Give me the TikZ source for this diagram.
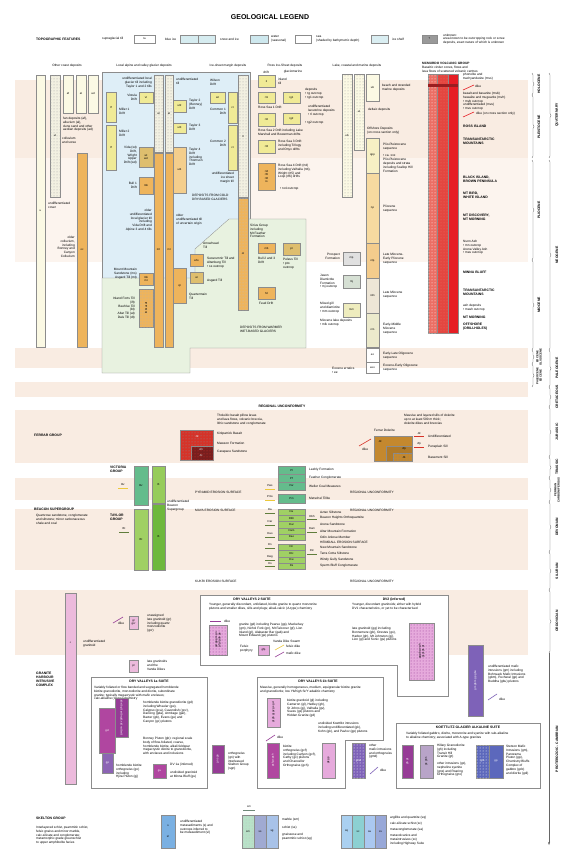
\documentclass[tikz,border=0pt]{standalone}
\usepackage{fontspec}
\setmainfont{Liberation Sans}
\usetikzlibrary{calc, patterns, decorations.pathreplacing, arrows.meta}
\definecolor{bandpeach}{RGB}{249,236,226}
\definecolor{bandlight}{RGB}{252,244,238}
\definecolor{coldblue}{RGB}{222,238,247}
\definecolor{warmgreen}{RGB}{232,242,224}
\definecolor{paleyel}{RGB}{251,249,228}
\definecolor{screebg}{RGB}{242,240,225}
\definecolor{tillyel}{RGB}{240,234,150}
\definecolor{tilltan}{RGB}{222,190,110}
\definecolor{oldorange}{RGB}{238,180,92}
\definecolor{lightorange}{RGB}{244,206,140}
\definecolor{iceblue}{RGB}{214,236,240}
\definecolor{snowblue}{RGB}{206,232,238}
\definecolor{seablue}{RGB}{218,238,242}
\definecolor{seqa}{RGB}{247,240,196}
\definecolor{seqb}{RGB}{247,218,160}
\definecolor{seqc}{RGB}{244,204,140}
\definecolor{seqd}{RGB}{238,230,214}
\definecolor{seqe}{RGB}{236,234,204}
\definecolor{jasgreen}{RGB}{214,224,212}
\definecolor{mmyel}{RGB}{238,236,190}
\definecolor{volcred}{RGB}{230,30,36}
\definecolor{volcmid}{RGB}{228,70,64}
\definecolor{volcpink}{RGB}{236,110,100}
\definecolor{ferrarred}{RGB}{214,50,40}
\definecolor{ferrardark}{RGB}{120,30,30}
\definecolor{doleritebrown}{RGB}{196,136,46}
\definecolor{victgreen}{RGB}{100,188,140}
\definecolor{beacgreen}{RGB}{150,204,90}
\definecolor{beacdark}{RGB}{110,184,60}
\definecolor{taylgreen}{RGB}{160,208,100}
\definecolor{granpink}{RGB}{236,186,220}
\definecolor{dvpink}{RGB}{230,170,220}
\definecolor{dvmagenta}{RGB}{176,70,160}
\definecolor{dvviolet}{RGB}{150,60,150}
\definecolor{dvpurple}{RGB}{140,100,180}
\definecolor{matpurple}{RGB}{126,98,184}
\definecolor{kgray}{RGB}{184,164,200}
\definecolor{alkblue}{RGB}{92,104,188}
\definecolor{skelblue}{RGB}{122,176,226}
\definecolor{skelgreen}{RGB}{184,226,200}
\definecolor{skelgray}{RGB}{160,170,210}
\definecolor{skelpale}{RGB}{168,194,232}
\definecolor{skq}{RGB}{170,208,240}
\definecolor{skc}{RGB}{140,208,210}
\definecolor{ska}{RGB}{170,200,240}
\definecolor{skv}{RGB}{152,168,216}
\definecolor{dikeyel}{RGB}{236,200,60}

% unit box: [label opts]{name}{corner}{corner}{box style}{label}
\newcommand{\legbox}[6][]{%
  \draw[unit,#5] #3 rectangle #4;
  \node[ulbl,#1] (#2) at ($#3!0.5!#4$) {#6};}

\begin{document}
\begin{tikzpicture}[x=1pt,y=-1pt,
    lbl/.style={font=\fontsize{3.2}{3.8}\selectfont, inner sep=0pt, align=left, anchor=north west},
    hd/.style={font=\fontsize{3.4}{4}\selectfont\bfseries, inner sep=0pt, align=left, anchor=north west},
    era/.style={font=\fontsize{3.4}{4}\selectfont\bfseries, inner sep=0pt, rotate=90, align=center},
    unit/.style={draw=black!45, line width=0.3pt},
    ulbl/.style={font=\fontsize{2.8}{3.2}\selectfont, inner sep=0pt, align=center},
    stip/.style={postaction={pattern=dots, pattern color=#1}},
    stip/.default=black!35,
    brc/.style={decorate, decoration={brace, amplitude=2pt}, draw=black!60, line width=0.3pt},
    dikeline/.style={line width=0.6pt}]

\useasboundingbox (0,0) rectangle (565,850);
\fill[white] (0,0) rectangle (565,850);

% Period bands
\fill[bandpeach] (15,80) rectangle (528,158);
\fill[bandlight] (15,158) rectangle (528,262);
\fill[bandpeach] (15,348) rectangle (528,368);
\fill[bandpeach] (15,382) rectangle (528,397);
\fill[bandpeach] (15,410) rectangle (528,463);
\fill[bandpeach] (15,478) rectangle (528,500);
\fill[bandpeach] (15,509) rectangle (528,570);
\fill[bandpeach] (15,590) rectangle (528,655);

% Title
\node[font=\fontsize{7}{8}\selectfont\bfseries] (title) at (270,17) {GEOLOGICAL LEGEND};

% Topographic features
\node[hd, anchor=west] (topo) at (36,39) {TOPOGRAPHIC FEATURES};
\node[lbl, anchor=west] (tsup) at (102,39) {supraglacial till};
\legbox{bsup}{(134,35)}{(155,43)}{fill=white}{ta}
\node[lbl, anchor=west] (tblue) at (165,39) {blue ice};
\legbox{bice}{(180,35)}{(198,43)}{fill=iceblue}{}
\legbox{bicb}{(198,35)}{(215,43)}{fill=iceblue}{}
\node[lbl, anchor=west] (tsnow) at (220,39) {snow and ice};
\legbox{bsnow}{(250,35)}{(268,43)}{fill=snowblue}{}
\node[lbl, anchor=west] (twater) at (271,39) {water\\(seasonal)};
\legbox{bwater}{(295,35)}{(311,43)}{fill=white}{}
\node[lbl, anchor=west] (tsea) at (316,39) {sea\\(shaded by bathymetric depth)};
\legbox{bsea}{(371,35)}{(388,43)}{fill=seablue}{}
\node[lbl, anchor=west] (tshelf) at (392,39) {ice shelf};
\legbox{bunk}{(422,35)}{(437,43)}{fill=black!40}{?}
\node[lbl, anchor=west] (tunk) at (443,39) {unknown:\\area known to be outcropping rock or scree\\deposits, exact nature of which is unknown};

% Column headings
\node[lbl, anchor=center] (hcoast) at (67,66) {Other coast deposits};
\node[lbl, anchor=center] (hlocal) at (144,66) {Local alpine and valley glacier deposits};
\node[lbl, anchor=center] (hmargin) at (228,66) {Ice-sheet margin deposits};
\node[lbl, anchor=center] (hross) at (285,66) {Ross Ice-Sheet deposits};
\node[lbl, anchor=center] (hdrift) at (266,72) {drift};
\node[lbl, anchor=center] (hglm) at (293,72) {glaciomarine};
\node[lbl, anchor=center] (hlake) at (357,66) {Lake, coastal and marine deposits};
\node[lbl] (hmvg) at (422,62) {\textbf{MCMURDO VOLCANIC GROUP}\\Basaltic cinder cones, flows and\\lava flows of scattered volcanic centres};

% Other coast deposits
\legbox{cu}{(36,75)}{(45,347)}{fill=paleyel}{u}
\legbox{cul}{(50,75)}{(60,197)}{fill=screebg,stip}{ul}
\legbox{caf}{(63,75)}{(73,113)}{fill=paleyel}{af}
\legbox{cal}{(76,75)}{(86,113)}{fill=paleyel}{al}
\legbox{cad}{(88,75)}{(98,113)}{fill=paleyel}{ad}
\node[lbl] (tfan) at (63,117) {fan deposits (af),\\alluvium (al),\\dune sand and other\\aeolian deposits (ad)};
\node[lbl] (tcoll) at (62,137) {colluvium\\and scree};
\node[lbl] (tcover) at (48,202) {undifferentiated\\cover};
\legbox{cmx}{(77,153)}{(87,347)}{fill=oldorange}{oc}
\node[lbl, anchor=north east, align=right] (toldc) at (75,236) {older\\colluvium,\\including\\Bonney and\\Canyon\\Colluvium};

% Local alpine and valley glacier deposits
\draw[unit, fill=coldblue] (102,72) rectangle (250,278);
\draw[unit, fill=warmgreen] (102,278) -- (102,373) -- (190,373) -- (190,348) -- (306,348) -- (306,219) -- (229,219) -- (195,249) -- (195,278) -- cycle;
\legbox{lu1}{(154,75)}{(163,152)}{fill=screebg,stip}{at}
\legbox{lu2}{(165,75)}{(173,152)}{fill=screebg,stip}{at}
\legbox{lm1}{(154,153)}{(163,347)}{fill=oldorange}{mt}
\legbox{lm2}{(165,153)}{(173,347)}{fill=oldorange}{mt}
\node[lbl, anchor=north east, align=right] (tlocal) at (152,77) {undifferentiated local\\glacier till including\\Taylor 1 and 2 tills};
\node[lbl] (tundt) at (176,78) {undifferentiated\\till};
\legbox{lmi1}{(106,92)}{(116,122)}{fill=tillyel}{tf}
\node[lbl] (tmil1) at (119,108) {Miller 1\\Drift};
\legbox{lmi2}{(106,125)}{(116,170)}{fill=tillyel}{tf}
\node[lbl] (tmil2) at (119,130) {Miller 2\\Drift};
\legbox{lvis}{(139,92)}{(153,103)}{fill=tillyel}{vt}
\node[lbl, anchor=north east, align=right] (tvis) at (137,94) {Vistula\\Drift};
\legbox{lvid}{(139,147)}{(153,167)}{fill=tilltan}{wt\\wd}
\node[lbl, anchor=north east, align=right] (tvid) at (137,146) {Vida (wt)\\Drift,\\Wright\\Upper\\Drift (wd)};
\legbox{lbul}{(139,177)}{(153,194)}{fill=oldorange}{mb}
\node[lbl, anchor=north east, align=right] (tbul) at (137,182) {Bull 1\\Drift};
\node[lbl, anchor=north east, align=right] (told) at (152,209) {older\\undifferentiated\\local glacier till\\including\\Vida Drift and\\Alpine 3 and 4 tills};
\node[lbl] (tunc) at (176,214) {older\\undifferentiated till\\of uncertain origin};
\legbox{lt2}{(173,100)}{(186,112)}{fill=tillyel}{ut2}
\node[lbl] (tty2) at (189,99) {Taylor 2\\(Bonney)\\Drift};
\legbox{lt3}{(173,123)}{(186,133)}{fill=tillyel}{ut3}
\node[lbl] (tty3) at (189,124) {Taylor 3\\Drift};
\legbox{lt4}{(173,147)}{(186,193)}{fill=lightorange}{ut4}
\node[lbl] (tty4) at (189,148) {Taylor 4\\Drift\\including\\Thomson\\Drift};
\node[lbl, anchor=north east, align=right] (tism) at (234,172) {undifferentiated\\ice sheet\\margin till};
\node[lbl] (tcold) at (192,194) {DEPOSITS FROM COLD\\DRY-BASED GLACIERS};

% Ice-sheet margin deposits
\node[lbl] (twil) at (210,79) {Wilson\\Drift};
\legbox{mwil}{(210,92)}{(225,103)}{fill=tillyel}{wt}
\legbox{mc1}{(228,92)}{(237,123)}{fill=tillyel}{ct}
\node[lbl, anchor=north east, align=right] (tcom1) at (226,108) {Common 1\\Drift};
\legbox{mc2}{(228,125)}{(237,170)}{fill=tillyel}{ct}
\node[lbl, anchor=north east, align=right] (tcom2) at (226,140) {Common 2\\Drift};
\legbox{mim}{(238,75)}{(248,197)}{fill=screebg,stip}{it}
\legbox{mio}{(238,198)}{(248,310)}{fill=oldorange,stip=black!25}{ot}

% Deposits from warmer wet-based glaciers
\node[lbl] (tsirius) at (250,224) {Sirius Group\\including\\Mt Feather\\Formation};
\legbox{gbul}{(258,243)}{(275,253)}{fill=oldorange}{mb}
\node[lbl] (tbul23) at (258,257) {Bull 2 and 3\\Drift};
\legbox{gpel}{(283,243)}{(300,255)}{fill=tilltan}{pt}
\node[lbl] (tpel) at (283,258) {Peleus Till\\• pto\\outcrop};
\legbox{garr}{(190,254)}{(203,266)}{fill=oldorange}{ahs}
\node[lbl] (tarr) at (203,242) {Arrowhead\\Till};
\node[lbl] (tsess) at (207,257) {Sessrumnir Till and\\Altenberg Till\\• ss outcrop};
\legbox{gasg}{(190,272)}{(203,283)}{fill=tilltan}{at}
\node[lbl] (tasg) at (207,279) {Asgard Till};
\legbox{gmm}{(139,273)}{(153,285)}{fill=oldorange}{mb\\mt}
\node[lbl, anchor=north east, align=right] (tmm) at (137,268) {Mount Mountain\\Sandstone (ms)\\Asgard Till (mt)};
\legbox[rotate=90]{gif}{(139,289)}{(153,327)}{fill=oldorange,stip=black!30}{ift bt at dt}
\node[lbl, anchor=north east, align=right] (tif) at (135,297) {Inland Forts Till\\(ift)\\Beehive Till\\(bt)\\Altar Till (at)\\Dais Till (dt)};
\legbox{gqt}{(173,268)}{(186,303)}{fill=oldorange}{qt}
\node[lbl] (tqt) at (189,293) {Quartermain\\Till};
\legbox{gfd}{(258,287)}{(275,299)}{fill=oldorange}{fd}
\node[lbl] (tfeud) at (259,302) {Feud Drift};
\node[lbl] (twarm) at (240,326) {DEPOSITS FROM WARMER\\WET-BASED GLACIERS};

% Ross Ice-Sheet deposits
\legbox{rit}{(258,75)}{(275,87)}{fill=tillyel}{it}
\node[lbl] (trit) at (278,78) {inland\\till};
\legbox{r1a}{(258,92)}{(275,103)}{fill=tillyel}{rt1}
\legbox{r1b}{(283,92)}{(300,103)}{fill=tillyel}{rg1}
\node[lbl] (tr1) at (258,106) {Ross Sea 1 Drift};
\legbox{r2a}{(258,113)}{(275,126)}{fill=tillyel}{rt2}
\legbox{r2b}{(283,113)}{(300,124)}{fill=tillyel}{rg2}
\node[lbl] (tr2) at (258,129) {Ross Sea 2 Drift including Lake\\Marshall and Bowerman drifts};
\legbox{r3}{(258,140)}{(275,153)}{fill=tillyel}{rt3}
\node[lbl] (tr3) at (278,140) {Ross Sea 3 Drift\\including Trilogy\\and Onyx drifts};
\legbox{r4}{(258,163)}{(275,190)}{fill=oldorange}{rt4\\rt5\\rt6\\ro}
\node[lbl] (tr4) at (278,164) {Ross Sea 4 Drift (rt4)\\including Valhalla (rt4),\\Wright (rt5) and\\Loop (rt6) drifts};
\node[lbl] (tr4o) at (280,187) {• ro4 outcrop};
\node[lbl] (tgm1) at (305,88) {deposits\\• rg outcrop\\• rg1 outcrop};
\node[lbl] (tgm2) at (308,105) {undifferentiated\\lacustrine deposits\\• rl outcrop};
\node[lbl] (tgm3) at (305,121) {• rg2 outcrop};

% Lake, coastal and marine deposits
\legbox{lk1}{(342,74)}{(352,197)}{fill=paleyel,stip}{ub}
\legbox{lk2}{(354,74)}{(364,150)}{fill=paleyel,stip}{ut}
\legbox{lk3}{(366,74)}{(379,101)}{fill=paleyel}{ub}
\node[lbl] (tbeach) at (382,84) {beach and stranded\\marine deposits};
\node[lbl] (tdelta) at (368,108) {deltaic deposits};
\node[lbl] (toff) at (367,127) {Offshore Deposits\\(on cross section only)};
\legbox{sq1}{(366,138)}{(379,173)}{fill=seqa}{qpp}
\legbox{sq2}{(366,173)}{(379,243)}{fill=seqb}{np}
\legbox{sq3}{(366,243)}{(379,278)}{fill=seqc}{nlp}
\legbox{sq4}{(366,278)}{(379,313)}{fill=seqd}{nlm}
\legbox{sq5}{(366,313)}{(379,347)}{fill=seqe}{nm}
\legbox{sq6}{(366,348)}{(379,362)}{fill=white}{eo}
\legbox{sq7}{(366,362)}{(379,373)}{fill=white}{eeo}
\node[lbl] (tsq1) at (383,143) {Plio-Pleistocene\\sequence};
\node[lbl] (tsq1b) at (383,155) {• ca. xxx\\Plio-Pleistocene\\deposits and strata\\including Scallop Hill\\Formation};
\node[lbl] (tsq2) at (383,205) {Pliocene\\sequence};
\node[lbl] (tsq3) at (383,253) {Late Miocene-\\Early Pliocene\\sequence};
\node[lbl] (tsq4) at (383,291) {Late Miocene\\sequence};
\node[lbl] (tsq5) at (383,323) {Early-Middle\\Miocene\\sequence};
\node[lbl] (tsq6) at (383,352) {Early-Late Oligocene\\sequence};
\node[lbl] (tsq7) at (383,364) {Eocene-Early Oligocene\\sequence};
\node[lbl, anchor=north east, align=right] (tprosp) at (340,253) {Prospect\\Formation};
\legbox{fpr}{(343,252)}{(360,265)}{fill=black!12}{mp}
\node[lbl] (tjas) at (320,274) {Jason\\Diamictite\\Formation\\• mj outcrop};
\legbox{fja}{(343,275)}{(360,288)}{fill=jasgreen}{mj}
\node[lbl] (tmix) at (320,302) {Mixed gill\\and diamictite\\• mm outcrop};
\legbox{fmm}{(343,303)}{(360,317)}{fill=mmyel}{mm}
\node[lbl] (tmlk) at (320,319) {Miocene lake deposits\\• mlk outcrop};
\node[lbl] (teoc) at (332,367) {Eocene erratics\\• ee};

% McMurdo Volcanic Group
\legbox{mv1}{(428,74)}{(437,333)}{fill=volcpink,stip=white}{}
\legbox{mv2}{(437,74)}{(448,333)}{fill=volcmid,stip=volcpink}{}
\legbox{mv3}{(448,74)}{(458,333)}{fill=volcred}{}
\fill[ferrardark!70!volcred] (428,84) rectangle (458,87);
\node[lbl] (tmv1) at (463,73) {phonolite and\\trachyandesite (mvs)};
\draw[dikeline, volcred] (463,90) -- (474,85);
\node[lbl] (tmvd1) at (475,85) {dike};
\node[lbl] (tmv2) at (463,92) {basalt and basanite (mvb)\\hawaiite and mugearite (mvh)\\• mvb outcrop\\undifferentiated (mvu)\\• mvu outcrop};
\draw[dikeline, volcred] (463,117) -- (474,112);
\node[lbl] (tmvd2) at (476,112) {dike (on cross section only)};
\node[hd] (mvross) at (463,125) {ROSS ISLAND};
\node[hd] (mvtam) at (463,138) {TRANSANTARCTIC\\MOUNTAINS};
\node[hd] (mvblack) at (463,176) {BLACK ISLAND,\\BROWN PENINSULA};
\node[hd] (mvbird) at (463,192) {MT BIRD,\\WHITE ISLAND};
\node[hd] (mvdisc) at (463,214) {MT DISCOVERY,\\MT MORNING};
\node[lbl] (mvash) at (463,240) {Nunn Ash\\• mn outcrop\\Arena Valley Ash\\• mav outcrop};
\node[hd] (mvminna) at (463,271) {MINNA BLUFF};
\node[hd] (mvtam2) at (463,289) {TRANSANTARCTIC\\MOUNTAINS};
\node[lbl] (mvash2) at (463,304) {ash deposits\\• mash outcrop};
\node[hd] (mvmorn) at (463,316) {MT MORNING};
\node[hd] (mvoff) at (463,323) {OFFSHORE\\(DRILLHOLES)};

\node[hd, anchor=center] (ru1) at (282,406) {REGIONAL UNCONFORMITY};

% Ferrar Group
\node[hd] (ferrar) at (34,434) {FERRAR GROUP};
\node[lbl] (tkb) at (217,414) {Tholeiitic basalt pillow lavas\\and lava flows, volcanic breccia,\\lithic sandstone and conglomerate};
\legbox{fjk}{(180,430)}{(213,460)}{fill=ferrarred,stip=black!45}{}
\legbox{fjc}{(191,446)}{(213,460)}{fill=ferrardark,stip=ferrarred}{}
\node[ulbl, text=white] (ljk) at (197,436) {Jk};
\node[ulbl, text=white] (ljm) at (201,450) {Jm};
\node[ulbl, text=white] (ljc) at (201,456) {Jc};
\node[lbl, anchor=west] (tkirk) at (217,434) {Kirkpatrick Basalt};
\node[lbl, anchor=west] (tmaw) at (217,443) {Mawson Formation};
\node[lbl, anchor=west] (tcar) at (217,452) {Carapace Sandstone};
\node[lbl, anchor=west] (tfdol) at (374,430) {Ferrar Dolerite};
\node[lbl] (tfdesc) at (404,414) {Massive and layered sills of dolerite\\up to at least 500 m thick;\\dolerite dikes and breccias};
\legbox{fd1}{(374,436)}{(412,461)}{fill=doleritebrown}{}
\legbox{fd2}{(386,446)}{(412,461)}{fill=doleritebrown!90!black}{}
\legbox{fd3}{(393,453)}{(412,461)}{fill=doleritebrown,stip=black!50}{}
\node[ulbl] (ljd) at (380,441) {Jd};
\node[ulbl] (ljfp) at (404,449) {Jfp};
\node[ulbl] (ljb) at (404,457) {Jb};
\draw[dikeline, ferrarred] (359,446) -- (371,439);
\node[lbl] (tdkf) at (362,448) {dike};
\node[ulbl] (lsym1) at (419,433) {Jd};
\draw[ferrarred, line width=0.5pt] (414,436) -- (424,436);
\node[lbl, anchor=west] (tsym1) at (428,436) {Undifferentiated};
\node[ulbl] (lsym2) at (419,444) {Jfp};
\draw[ferrarred, line width=0.5pt] (414,447) -- (424,447);
\node[lbl, anchor=west] (tsym2) at (428,447) {Peneplain Sill};
\node[lbl, anchor=west] (tsym3) at (428,457) {Basement Sill};

% Beacon Supergroup
\node[hd] (vict) at (110,466) {VICTORIA\\GROUP};
\legbox{bv}{(134,466)}{(148,505)}{fill=victgreen}{Bv}
\legbox{bb}{(152,466)}{(165,503)}{fill=beacgreen}{B}
\node[ulbl] (lbv) at (123,485) {Bv};
\draw[dikeyel, line width=0.5pt] (118,488) -- (128,488);
\node[lbl] (tundb) at (167,500) {undifferentiated\\Beacon\\Supergroup};
\node[hd] (beac) at (34,508) {BEACON SUPERGROUP};
\node[lbl] (tbeac) at (36,514) {Quartzose sandstone, conglomerate\\and siltstone; minor carbonaceous\\shale and coal};
\node[hd] (tayl) at (110,514) {TAYLOR\\GROUP};
\legbox{bt}{(134,509)}{(148,570)}{fill=taylgreen}{Bt}
\legbox{bbt}{(152,504)}{(165,570)}{fill=beacdark}{B}
\node[ulbl] (lbt) at (124,529) {Bt};
\draw[taylgreen!60!black, line width=0.5pt] (119,532) -- (129,532);
\node[lbl, anchor=west] (pyr) at (195,492) {PYRAMID EROSION SURFACE};
\node[lbl, anchor=west] (ru2) at (350,492) {REGIONAL UNCONFORMITY};
\node[lbl, anchor=west] (maya) at (195,510) {MAYA EROSION SURFACE};
\node[lbl, anchor=west] (ru3) at (350,510) {REGIONAL UNCONFORMITY};
\node[lbl, anchor=west] (kuk) at (195,581) {KUKRI EROSION SURFACE};
\node[lbl, anchor=west] (ru4) at (350,581) {REGIONAL UNCONFORMITY};

% Victoria Group units
\legbox{vls}{(278,466)}{(305,474)}{fill=victgreen}{Pl}
\legbox{vfc}{(278,474)}{(305,482)}{fill=victgreen}{Pf}
\legbox{vwc}{(278,482)}{(305,490)}{fill=victgreen}{Pw}
\legbox{vmt}{(278,494)}{(305,503)}{fill=victgreen}{Pm}
\node[lbl, anchor=west] (tvls) at (309,470) {Lashly Formation};
\node[lbl, anchor=west] (tvfc) at (309,478) {Feather Conglomerate};
\node[lbl, anchor=west] (tvwc) at (309,486) {Weller Coal Measures};
\node[lbl, anchor=west] (tvmt) at (309,498) {Metschel Tillite};
\node[ulbl] (lpws) at (270,486) {Pws};
\draw[dikeyel, line width=0.5pt] (265,489) -- (275,489);
\node[ulbl] (lpms) at (270,497) {Pms};
\draw[dikeyel, line width=0.5pt] (265,500) -- (275,500);

% Taylor Group units
\legbox{ta1}{(278,509)}{(305,515)}{fill=taylgreen}{Da}
\legbox{ta2}{(278,515)}{(305,521)}{fill=taylgreen}{Dbh}
\legbox{ta3}{(278,521)}{(305,528)}{fill=taylgreen}{Dar}
\legbox{ta4}{(278,528)}{(305,534)}{fill=taylgreen}{Dam}
\legbox{ta5}{(278,534)}{(305,540)}{fill=taylgreen}{Dao}
\legbox{ta6}{(278,544)}{(305,550)}{fill=taylgreen}{Dn}
\legbox{ta7}{(278,550)}{(305,557)}{fill=taylgreen}{Dtc}
\legbox{ta8}{(278,557)}{(305,563)}{fill=taylgreen}{Dw}
\legbox{ta9}{(278,563)}{(305,569)}{fill=taylgreen}{Ds}
\node[lbl, anchor=west] (tta1) at (320,512) {Aztec Siltstone};
\node[lbl, anchor=west] (tta2) at (320,518) {Beacon Heights Orthoquartzite};
\node[lbl, anchor=west] (tta3) at (320,524.5) {Arena Sandstone};
\node[lbl, anchor=west] (tta4) at (320,531) {Altar Mountain Formation};
\node[lbl, anchor=west] (tta5) at (320,537) {Odin Arkose Member};
\node[lbl, anchor=west] (theim) at (320,542) {HEIMDALL EROSION SURFACE};
\node[lbl, anchor=west] (tta6) at (320,547) {New Mountain Sandstone};
\node[lbl, anchor=west] (tta7) at (320,553.5) {Terra Cotta Siltstone};
\node[lbl, anchor=west] (tta8) at (320,560) {Windy Gully Sandstone};
\node[lbl, anchor=west] (tta9) at (320,566) {Sperm Bluff Conglomerate};
\node[ulbl] (lda) at (270,510) {Da};
\draw[taylgreen!60!black, line width=0.4pt] (265,513) -- (275,513);
\node[ulbl] (ldar) at (270,522) {Dar};
\draw[taylgreen!60!black, line width=0.4pt] (265,525) -- (275,525);
\node[ulbl] (ldao) at (270,534) {Dao};
\draw[taylgreen!60!black, line width=0.4pt] (265,537) -- (275,537);
\node[ulbl] (ldn) at (270,545) {Dn};
\draw[taylgreen!60!black, line width=0.4pt] (265,548) -- (275,548);
\node[ulbl] (ldw) at (270,557) {Dwg};
\draw[taylgreen!60!black, line width=0.4pt] (265,560) -- (275,560);
\node[ulbl] (lds) at (270,563.5) {Ds};
\draw[taylgreen!60!black, line width=0.4pt] (265,566.5) -- (275,566.5);
\node[ulbl] (ldbh) at (312,516) {Dbh};
\draw[taylgreen!60!black, line width=0.4pt] (307,519) -- (317,519);
\node[ulbl] (ldam) at (312,529) {Dam};
\draw[taylgreen!60!black, line width=0.4pt] (307,532) -- (317,532);
\node[ulbl] (ldtc) at (312,551) {Dtc};
\draw[taylgreen!60!black, line width=0.4pt] (307,554) -- (317,554);

% Granite Harbour Intrusive Complex
\legbox{ghu}{(65,593)}{(76,784)}{fill=granpink}{}
\node[ulbl] (lghu) at (70.5,643) {+};
\node[lbl] (tghu) at (83,640) {undifferentiated\\granitoid};
\node[hd] (ghic) at (36,672) {GRANITE\\HARBOUR\\INTRUSIVE\\COMPLEX};
\draw[dikeline, dvviolet] (113,623) -- (123,617);
\node[lbl] (tdk1) at (118,622) {dike};
\legbox{glg}{(129,616)}{(138,629)}{fill=granpink}{gr\\gcr}
\node[lbl] (tglg) at (147,614) {unassigned\\late granitoid (gr)\\including quartz\\monzodiorite\\(gcr)};
\legbox{gpl}{(129,660)}{(138,672)}{fill=granpink}{pl}
\node[lbl] (tgpl) at (147,660) {late granitoids\\and the\\Vanda Dikes};

% Dry Valleys 1a Suite
\draw[unit, fill=white] (91,677) rectangle (207,788);
\node[hd, anchor=north] (dv1a) at (149,680) {DRY VALLEYS 1a SUITE};
\node[lbl] (tdv1a) at (94,686) {Variably foliated or flow banded and segregated hornblende\\biotite granodiorite, monzodiorite and diorite, subordinate\\granite; typically megacrystic with mafic enclaves;\\calc-alkaline (I-type) chemistry};
\legbox[text=white]{dg1}{(99,708)}{(115,753)}{fill=dvmagenta}{gd}
\legbox[rotate=90, text=white]{dg2}{(115,698)}{(128,737)}{fill=dvviolet}{gw gca gcv gda gar gb ge gc}
\legbox[text=white]{dg3}{(102,753)}{(113,773)}{fill=dvpurple}{gp}
\node[lbl] (tdg) at (143,701) {hornblende biotite granodiorite (gd)\\including Wheeler (gw),\\Calypso (gca), Cavendish (gcv),\\Dancing (gda), Armitage (gar),\\Baxter (gb), Evans (ge) and\\Canyon (gc) plutons};
\node[lbl] (tbon) at (143,737) {Bonney Pluton (gb): regional scale\\body of flow-foliated, coarse,\\hornblende biotite, alkali feldspar\\megacrystic diorite to granodiorite,\\with enclaves and inclusions};
\node[lbl] (thoo) at (116,764) {hornblende biotite\\orthogneiss (go)\\including\\Hjira Pluton (gj)};
\legbox[text=white]{ddv}{(153,764)}{(166,778)}{fill=dvmagenta}{gu}
\node[lbl] (tdvinf) at (170,763) {DV 1a (inferred)};
\node[lbl] (tundg) at (170,771) {undivided granitoid\\at Minna Bluff (gu)};
\legbox[rotate=90, text=white]{gon}{(212,745)}{(224,773)}{fill=dvviolet}{gn sgn}
\node[lbl] (tgon) at (228,752) {orthogneiss\\(gn) with\\interleaved\\Skelton Group\\(sgn)};

% Dry Valleys 2 Suite
\draw[unit, fill=white] (200,595) -- (448,595) -- (448,696) -- (397,696) -- (397,665) -- (200,665) -- cycle;
\node[hd, anchor=north] (dv2) at (252,598) {DRY VALLEYS 2 SUITE};
\node[lbl] (tdv2) at (209,603) {Younger, generally discordant, unfoliated, biotite granite to quartz monzonite\\plutons and smaller dikes, sills and plugs; alkali-calcic (A-type) chemistry};
\draw[dikeline, dvviolet] (210,621) -- (221,621);
\node[lbl, anchor=west] (tdk2) at (224,621) {dike};
\legbox[rotate=90]{dv2g}{(209,625)}{(227,655)}{fill=dvpink,stip=dvviolet}{gd gp gm gn\\gf gl gab ge}
\node[lbl] (tdv2g) at (239,623) {granite (gd) including Pearse (gp), Mackelvey\\(gm), Nichol Fork (gn), Mt Falconer (gf), Lion\\Island (gl), Alabaster Bar (gab) and\\Mount Edward (ge) plutons};
\node[lbl] (tvds) at (273,640) {Vanda Dike Swarm};
\draw[dikeline, dikeyel] (275,650) -- (284,645);
\node[lbl] (tfd1) at (286,645) {felsic dike};
\draw[dikeline, dvviolet] (275,657) -- (284,652);
\node[lbl] (tmd1) at (286,652) {mafic dike};
\node[lbl] (tfp) at (240,645) {Felsic\\porphyry};
\legbox{dfp}{(258,645)}{(269,655)}{fill=dvpink}{gfp}
\node[hd, anchor=north] (dv2i) at (394,598) {DV2 (inferred)};
\node[lbl] (tdv2i) at (352,603) {Younger, discordant granitoids; either with hybrid\\DV1 characteristics, or yet to be characterised};
\legbox[rotate=90]{dv2ib}{(409,623)}{(434,680)}{fill=dvpink,stip=dvviolet}{gg gb go gh\\gj gl gs gr}
\node[lbl] (tdv2ib) at (352,627) {late granitoid (gg) including\\Bonnemere (gb), Orestes (go),\\Harbor (gh), Mt Johnston (gj),\\Lion (gl) and Sonic (gs) plutons};

% Unassigned mafic intrusions
\legbox[rotate=90, text=white]{gmaf}{(468,645)}{(483,716)}{fill=matpurple}{gm gbm gp gbu}
\node[lbl] (tgmaf) at (488,665) {undifferentiated mafic\\intrusions (gm) including\\Bohnsack Mafic Intrusions\\(gbm), Pecheral (gp) and\\Buddha (gbu) plutons};
\draw[dikeline, matpurple] (488,700) -- (497,694);
\node[lbl] (tdk3) at (499,698) {dike};

% Dry Valleys 1b Suite
\draw[unit, fill=white] (257,677) -- (383,677) -- (383,740) -- (345,740) -- (345,788) -- (257,788) -- cycle;
\node[hd, anchor=north] (dv1b) at (318,680) {DRY VALLEYS 1b SUITE};
\node[lbl] (tdv1b) at (260,686) {Massive, generally homogeneous, medium, equigranular biotite granite\\and granodiorite; low Yb/high Sr/Y adakitic chemistry};
\legbox[rotate=90]{d1bg}{(267,698)}{(280,727)}{fill=dvpink}{gl gh gj gv gs gd}
\node[lbl] (td1bg) at (287,699) {biotite granitoid (gl) including\\Cameron (gl), Hedley (gh),\\St Johns (gj), Valhalla (gv),\\Suess (gs) plutons and\\Hidden Granite (gd)};
\node[lbl] (tkoe) at (318,722) {undivided Koettlitz intrusions\\including undifferentiated (gk),\\Kohn (gk), and Pavlov (gp) plutons};
\draw[dikeline, dvviolet] (266,741) -- (275,735);
\node[lbl] (tdk4) at (277,736) {dike};
\legbox[rotate=90, text=white]{d1bo}{(267,743)}{(279,778)}{fill=dvmagenta}{gcf gc gch}
\node[lbl] (td1bo) at (283,745) {biotite\\orthogneiss (gcf)\\including Carlyon (gcf),\\Cathy (gc) plutons\\and Chancellor\\Orthogneiss (gch)};
\legbox[rotate=90]{d1bk}{(322,743)}{(335,778)}{fill=dvpink}{gk gp}
\legbox[text=white]{d1bm}{(352,743)}{(365,778)}{fill=matpurple,stip=white}{gmd}
\node[lbl] (td1bm) at (369,744) {other\\mafic intrusions\\and orthogneiss\\(gmd)};
\draw[dikeline, matpurple] (370,774) -- (378,767);
\node[lbl] (tdk5) at (380,769) {dike};

% Koettlitz Glacier Alkaline Suite
\draw[unit, fill=white] (396,723) rectangle (540,788);
\node[hd, anchor=north] (kgas) at (468,726) {KOETTLITZ GLACIER ALKALINE SUITE};
\node[lbl] (tkgas) at (406,732) {Variably foliated gabbro, diorite, monzonite and syenite with sub-alkaline\\to alkaline chemistry; associated with A-type granites};
\legbox[rotate=90, text=white]{kg1}{(402,745)}{(413,778)}{fill=dvviolet}{gh gt}
\legbox[rotate=90]{kg2}{(420,745)}{(433,778)}{fill=kgray}{gx gns}
\node[lbl] (tkg1) at (437,744) {Hillary Granodiorite\\(gh) including\\Transit Hill\\Granite (gt)};
\node[lbl] (tkg2) at (437,762) {other intrusions (gx),\\nepheline syenite\\(gns) and Roaring\\Orthogneiss (gro)};
\legbox[text=white]{kg3a}{(476,745)}{(489,778)}{fill=alkblue,stip=white}{gm}
\legbox[text=white]{kg3b}{(489,745)}{(503,778)}{fill=alkblue}{gp}
\node[lbl] (tkg3) at (506,745) {Stetson Mafic\\Intrusions (gm),\\Panorama\\Pluton (gp),\\Chemistry Bluffs\\Complex of\\gabbro (gcb)\\and diorite (gdi)};

% Skelton Group
\node[hd] (skel) at (36,817) {SKELTON GROUP};
\node[lbl] (tskel) at (36,826) {Interlayered schist, psammitic schist,\\felsic gneiss and minor marble,\\calc-silicate and conglomerate;\\metamorphic grade greenschist\\to upper amphibolite facies};
\legbox{su}{(161,815)}{(175,848)}{fill=skelblue}{s\\[8pt]sl}
\node[lbl] (tsu) at (180,820) {undifferentiated\\metasediments (s) and\\outcrops inferred to\\be metasediment (sl)};
\node[ulbl] (lsm) at (249,807) {sm};
\draw[skelgreen!60!black, line width=0.5pt] (243,810) -- (255,810);
\legbox{sm}{(242,815)}{(254,848)}{fill=skelgreen,stip=black!25}{sm}
\legbox{ss}{(254,815)}{(266,848)}{fill=skelgray}{ss}
\legbox{sg}{(266,815)}{(278,848)}{fill=skelpale}{sg}
\node[lbl, anchor=west] (tsm) at (282,820) {marble (sm)};
\node[lbl, anchor=west] (tss) at (282,828) {schist (ss)};
\node[lbl] (tsg) at (282,833) {gneissose and\\psammitic schist (sg)};
\legbox{sq}{(341,815)}{(352,848)}{fill=skq}{sq}
\legbox{sc}{(352,815)}{(364,848)}{fill=skc}{sc}
\legbox{sa}{(364,815)}{(375,848)}{fill=ska}{sa}
\legbox{sv}{(375,815)}{(386,848)}{fill=skv}{sv}
\node[lbl, anchor=west] (tsq) at (390,818) {argillite and quartzite (sq)};
\node[lbl, anchor=west] (tsc) at (390,824) {calc-silicate schist (sc)};
\node[lbl, anchor=west] (tsa) at (390,830) {metaconglomerate (sa)};
\node[lbl] (tsv) at (390,834) {metavolcanics and\\metaintrusives (sv)\\including Highway Suite};

% Time scale
\draw[brc] (532,73) -- (532,95);
\node[era] (holo) at (539,84) {HOLOCENE};
\draw[brc] (532,95) -- (532,158);
\node[era] (pleis) at (539,127) {PLEISTOCENE};
\draw[brc] (532,160) -- (532,260);
\node[era] (plio) at (539,210) {PLIOCENE};
\draw[brc] (532,260) -- (532,350);
\node[era] (mio) at (539,305) {MIOCENE};
\draw[brc] (532,350) -- (532,364);
\node[era, font=\fontsize{2.8}{3.2}\selectfont\bfseries] (olig) at (539,357) {EOCENE\\OLIGOCENE};
\draw[brc] (532,364) -- (532,387);
\node[era, font=\fontsize{2.8}{3.2}\selectfont\bfseries] (paleo) at (539,376) {PALEOCENE\\EOCENE};
\draw[brc] (549,73) -- (549,158);
\node[era] (quat) at (557,115) {QUATERNARY};
\draw[brc] (549,160) -- (549,350);
\node[era] (neog) at (557,255) {NEOGENE};
\draw[brc] (549,350) -- (549,387);
\node[era] (paleog) at (557,368) {PALEOGENE};
\draw[brc] (549,387) -- (549,407);
\node[era] (cret) at (557,397) {CRETACEOUS};
\draw[brc] (549,407) -- (549,457);
\node[era] (jura) at (557,432) {JURASSIC};
\draw[brc] (549,457) -- (549,478);
\node[era] (tria) at (557,467) {TRIASSIC};
\draw[brc] (549,478) -- (549,502);
\node[era, font=\fontsize{2.8}{3.2}\selectfont\bfseries] (perm) at (557,490) {PERMIAN\\CARBONIFEROUS};
\draw[brc] (549,502) -- (549,552);
\node[era] (devo) at (557,527) {DEVONIAN};
\draw[brc] (549,552) -- (549,590);
\node[era] (silu) at (557,571) {SILURIAN};
\draw[brc] (549,590) -- (549,653);
\node[era] (ordo) at (557,621) {ORDOVICIAN};
\coordinate (pcTop) at (549,653);
\coordinate (pcEnd) at (549,845);
\draw[black!60, line width=0.3pt, -{Stealth[length=3pt,width=2pt]}] (pcTop) -- (pcEnd);
\node[era] (pcam) at (557,749) {PROTEROZOIC - CAMBRIAN};
\end{tikzpicture}
\end{document}
